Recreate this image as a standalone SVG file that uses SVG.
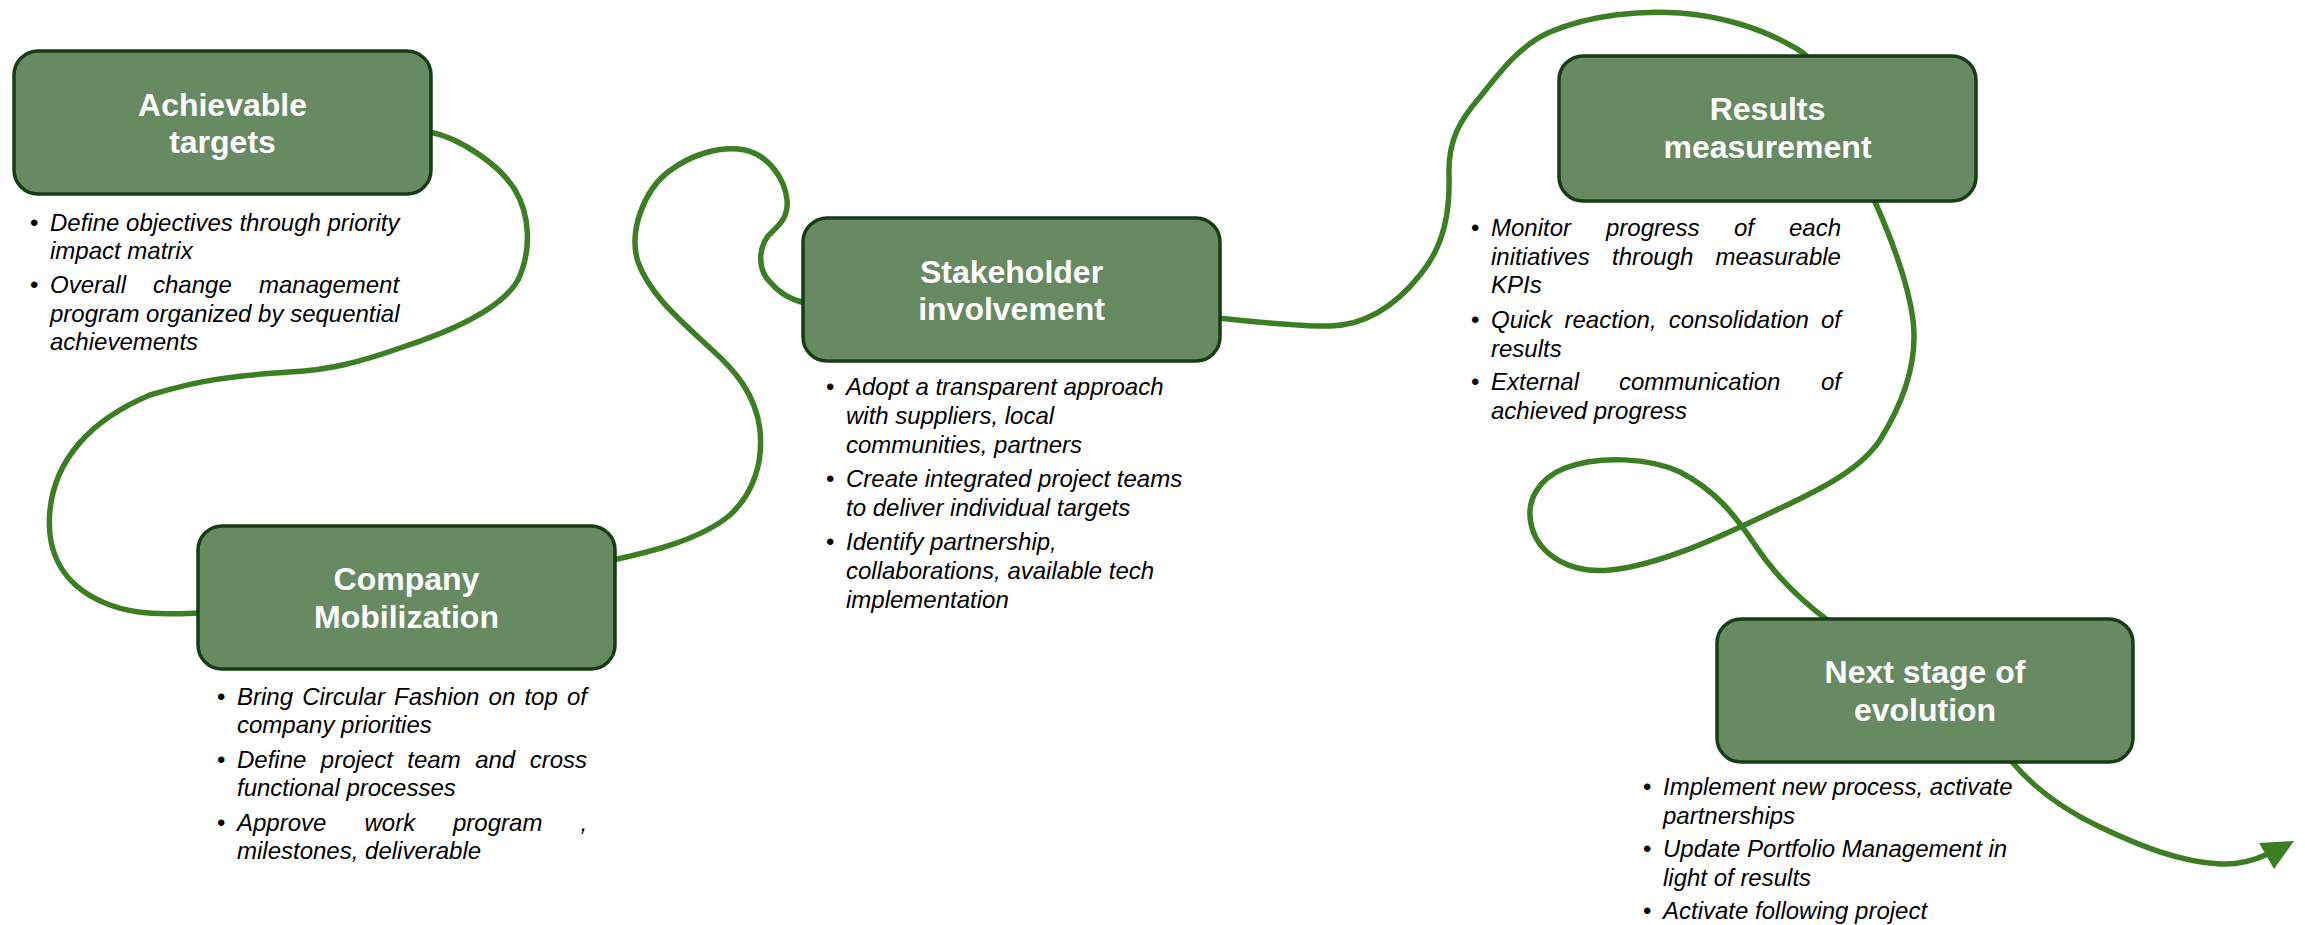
<svg xmlns="http://www.w3.org/2000/svg" width="2305" height="925" viewBox="0 0 2305 925">
<style>
  .box { fill: #688a62; stroke: #173d14; stroke-width: 3.5; }
  .title { font-family: "Liberation Sans", Arial, sans-serif; font-weight: bold; font-size: 32px; fill: #ffffff; text-anchor: middle; }
  .txt { font-family: "Liberation Sans", Arial, sans-serif; font-style: italic; font-size: 24px; fill: #000000; }
  .bul { font-family: "Liberation Sans", Arial, sans-serif; font-size: 24px; fill: #000000; }
  .conn { fill: none; stroke: #3c7e24; stroke-width: 5.5; stroke-linecap: round; }
  .head { fill: #3c7e24; }
</style>
<rect width="2305" height="925" fill="#ffffff"/>
<g id="connectors">
  <path class="conn" d="M430,132 C460,138 500,165 515,190 C530,215 532,250 518,280 C500,312 440,335 400,348 C360,362 330,370 290,372 C230,376 200,380 150,395 C90,420 55,460 50,510 C45,560 70,590 110,605 C140,616 170,614 200,613"/>
  <path class="conn" d="M613,560 C650,552 700,540 730,515 C755,492 763,460 760,430 C756,395 735,370 710,348 C680,320 650,295 638,262 C628,230 645,190 668,172 C690,155 720,145 745,150 C770,156 785,180 787,200 C789,220 775,228 768,236 C758,250 758,270 770,282 C780,294 792,300 805,303"/>
  <path class="conn" d="M1218,318 C1260,322 1300,327 1330,326 C1370,325 1400,300 1420,275 C1445,245 1450,210 1449,175 C1448,140 1460,120 1480,97 C1500,72 1520,45 1550,32 C1590,15 1640,10 1680,13 C1720,16 1760,28 1790,45 C1800,50 1808,56 1812,62"/>
  <path class="conn" d="M1872,195 C1890,235 1908,280 1913,320 C1918,360 1905,400 1880,440 C1860,470 1820,490 1770,513 C1720,537 1660,565 1610,570 C1570,574 1540,555 1532,528 C1524,500 1540,478 1565,468 C1600,455 1650,458 1680,472 C1715,490 1735,515 1755,545 C1775,575 1800,600 1830,622"/>
  <path class="conn" d="M2008,757 C2030,785 2060,808 2100,827 C2140,846 2180,862 2220,864 C2240,865 2255,860 2268,854"/>
  <polygon class="head" points="2259,843 2294,841 2274,869"/>
</g>
<g id="node-achievable-targets">
  <rect class="box" x="14" y="51" width="417" height="143" rx="24"/>
  <text class="title" x="222.5" y="116">Achievable</text>
  <text class="title" x="222.5" y="153">targets</text>
  <text class="bul" x="30" y="231">•</text>
  <text class="txt" x="50" y="231">Define objectives through priority</text>
  <text class="txt" x="50" y="259">impact matrix</text>
  <text class="bul" x="30" y="293">•</text>
  <text class="txt" y="293"><tspan x="50">Overall</tspan><tspan x="153">change</tspan><tspan x="259">management</tspan></text>
  <text class="txt" x="50" y="322">program organized by sequential</text>
  <text class="txt" x="50" y="350">achievements</text>
</g>
<g id="node-company-mobilization">
  <rect class="box" x="198" y="526" width="417" height="143" rx="24"/>
  <text class="title" x="406.5" y="590">Company</text>
  <text class="title" x="406.5" y="628">Mobilization</text>
  <text class="bul" x="217" y="705">•</text>
  <text class="txt" x="237" y="705" word-spacing="2.5">Bring Circular Fashion on top of</text>
  <text class="txt" x="237" y="733">company priorities</text>
  <text class="bul" x="217" y="768">•</text>
  <text class="txt" x="237" y="768" word-spacing="7.8">Define project team and cross</text>
  <text class="txt" x="237" y="796">functional processes</text>
  <text class="bul" x="217" y="831">•</text>
  <text class="txt" y="831"><tspan x="237">Approve</tspan><tspan x="364.5">work</tspan><tspan x="453">program</tspan><tspan x="580.5">,</tspan></text>
  <text class="txt" x="237" y="859">milestones, deliverable</text>
</g>
<g id="node-stakeholder-involvement">
  <rect class="box" x="803" y="218" width="417" height="143" rx="24"/>
  <text class="title" x="1011.5" y="283">Stakeholder</text>
  <text class="title" x="1011.5" y="320">involvement</text>
  <text class="bul" x="826" y="395">•</text>
  <text class="txt" x="846" y="395">Adopt a transparent approach</text>
  <text class="txt" x="846" y="424">with suppliers, local</text>
  <text class="txt" x="846" y="453">communities, partners</text>
  <text class="bul" x="826" y="487">•</text>
  <text class="txt" x="846" y="487">Create integrated project teams</text>
  <text class="txt" x="846" y="516">to deliver individual targets</text>
  <text class="bul" x="826" y="550">•</text>
  <text class="txt" x="846" y="550">Identify partnership,</text>
  <text class="txt" x="846" y="579">collaborations, available tech</text>
  <text class="txt" x="846" y="608">implementation</text>
</g>
<g id="node-results-measurement">
  <rect class="box" x="1559" y="56" width="417" height="145" rx="24"/>
  <text class="title" x="1767.5" y="120">Results</text>
  <text class="title" x="1767.5" y="158">measurement</text>
  <text class="bul" x="1471" y="236">•</text>
  <text class="txt" y="236"><tspan x="1491">Monitor</tspan><tspan x="1606">progress</tspan><tspan x="1734">of</tspan><tspan x="1789">each</tspan></text>
  <text class="txt" y="265"><tspan x="1491">initiatives</tspan><tspan x="1612">through</tspan><tspan x="1715.5">measurable</tspan></text>
  <text class="txt" x="1491" y="293">KPIs</text>
  <text class="bul" x="1471" y="328">•</text>
  <text class="txt" x="1491" y="328" word-spacing="5.5">Quick reaction, consolidation of</text>
  <text class="txt" x="1491" y="357">results</text>
  <text class="bul" x="1471" y="390">•</text>
  <text class="txt" y="390"><tspan x="1491">External</tspan><tspan x="1619">communication</tspan><tspan x="1821">of</tspan></text>
  <text class="txt" x="1491" y="419">achieved progress</text>
</g>
<g id="node-next-stage">
  <rect class="box" x="1717" y="619" width="416" height="143" rx="24"/>
  <text class="title" x="1925" y="683">Next stage of</text>
  <text class="title" x="1925" y="721">evolution</text>
  <text class="bul" x="1643" y="795">•</text>
  <text class="txt" x="1663" y="795">Implement new process, activate</text>
  <text class="txt" x="1663" y="824">partnerships</text>
  <text class="bul" x="1643" y="857">•</text>
  <text class="txt" x="1663" y="857">Update Portfolio Management in</text>
  <text class="txt" x="1663" y="886">light of results</text>
  <text class="bul" x="1643" y="919">•</text>
  <text class="txt" x="1663" y="919">Activate following project</text>
</g>
</svg>
